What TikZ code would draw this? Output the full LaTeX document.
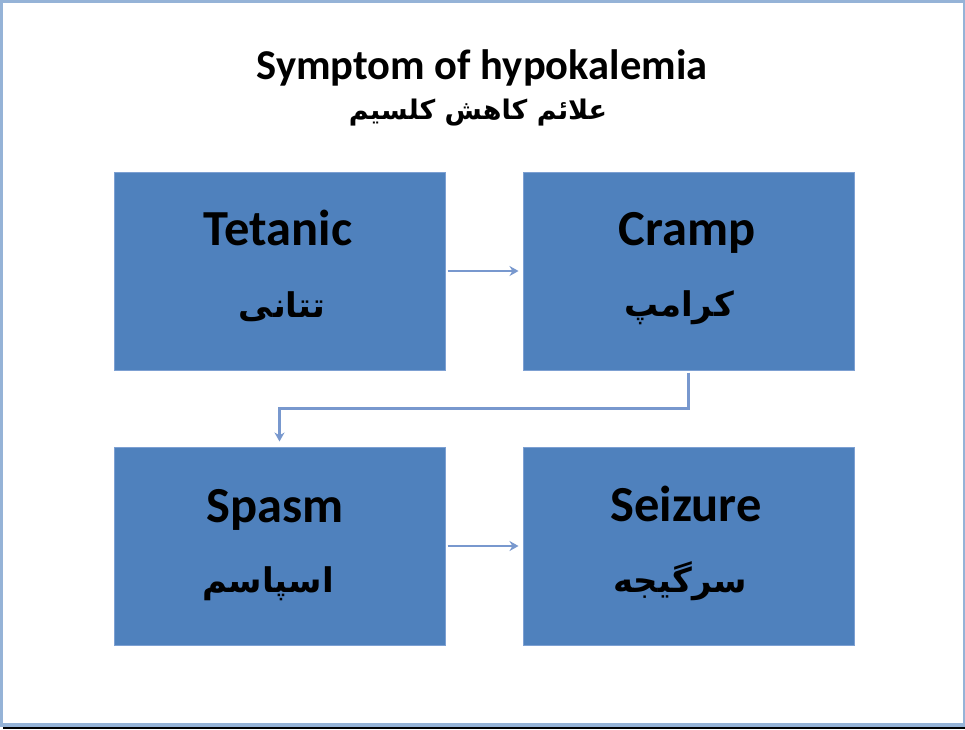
\documentclass[tikz,border=0pt]{standalone}
\usepackage{fontspec}
\setmainfont{Carlito}
\newfontfamily\arabicfont[Script=Arabic]{DejaVu Sans Bold}
\TeXXeTstate=1
\usetikzlibrary{arrows.meta}
\definecolor{framec}{RGB}{149,179,215}
\definecolor{boxfill}{RGB}{79,129,189}
\definecolor{boxedge}{RGB}{125,160,210}
\definecolor{arrc}{RGB}{120,152,206}
\tikzset{
  box/.style={rectangle, fill=boxfill, draw=boxedge, line width=1pt, minimum width=331pt, minimum height=198pt, inner sep=0pt},
  entext/.style={anchor=base, font=\fontsize{50.5}{56}\selectfont\bfseries, inner sep=0pt},
  artext/.style={anchor=base, font=\fontsize{34}{40}\selectfont\arabicfont, inner sep=0pt},
  conn/.style={draw=arrc, line width=2.4pt, -{Stealth[length=9pt,width=10pt]}}
}
\begin{document}
\begin{tikzpicture}[x=1pt,y=-1pt]
\useasboundingbox (0,0) rectangle (965,729);
% frame
\fill[white] (0,0) rectangle (965,729);
\fill[framec] (0,0) rectangle (965,2.5);
\fill[framec] (0,0) rectangle (2.5,727);
\fill[framec] (962.5,0) rectangle (965,727);
\fill[framec] (0,722.5) rectangle (965,727);
\fill[black] (3,727) rectangle (965,729);
% title
\node[anchor=base, font=\fontsize{42.5}{48}\selectfont\bfseries, inner sep=0pt] (title) at (482,79) {Symptom of hypokalemia};
\node[anchor=base, font=\fontsize{27}{34}\selectfont\arabicfont, inner sep=0pt] (titlear) at (478,119) {\beginR علائم کاهش کلسیم\endR};
% boxes
\node[box] (tet) at (279.5,271) {};
\node[box] (cr) at (688.5,271) {};
\node[box] (spa) at (279.5,546) {};
\node[box] (sei) at (688.5,546) {};
% texts
\node[entext] (tetEn) at (278,245) {Tetanic};
\node[artext] (tetAr) at (282,317) {\beginR تتانی\endR};
\node[entext] (crEn) at (687,245) {Cramp};
\node[artext] (crAr) at (679,316) {\beginR کرامپ\endR};
\node[entext] (spaEn) at (275,522) {Spasm};
\node[artext] (spaAr) at (268,592) {\beginR اسپاسم\endR};
\node[entext] (seiEn) at (686,521) {Seizure};
\node[artext] (seiAr) at (680,592) {\beginR سرگیجه\endR};
% connectors
\draw[conn, shorten <=2pt, shorten >=4pt] (tet.east) -- (cr.west);
\draw[conn, shorten <=2pt, shorten >=4pt] (spa.east) -- (sei.west);
\draw[conn, shorten <=2pt, shorten >=5pt] (cr.south) -- ++(0,38) -| (spa.north);
\end{tikzpicture}
\end{document}
